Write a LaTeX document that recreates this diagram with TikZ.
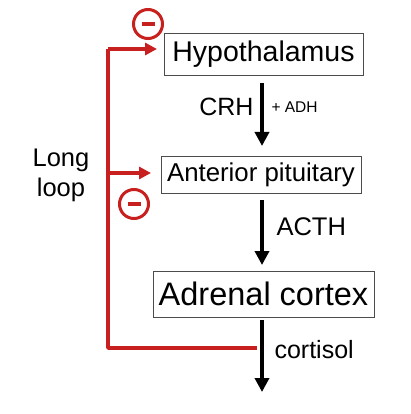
\documentclass[tikz,border=0pt]{standalone}
\usepackage{fontspec}
\setmainfont{Liberation Sans}
\usetikzlibrary{arrows.meta,positioning}
\definecolor{loopred}{RGB}{200,32,30}
\tikzset{
  organ/.style={draw=black!70,line width=0.8pt,inner sep=0pt,minimum height=#1},
  hormone/.style={line width=3.5pt,-{Triangle[length=14pt,width=14pt]}},
  feedback/.style={draw=loopred,line width=3.5pt},
  feedarrow/.style={feedback,-{Triangle[length=12pt,width=12pt]}},
  inhibit/.style={circle,draw=loopred,line width=3pt,minimum size=29pt,inner sep=0pt}
}
\newcommand{\minusbar}{\textcolor{loopred}{\rule[-2pt]{13pt}{4pt}}}
\begin{document}
\begin{tikzpicture}[x=1pt,y=-1pt]
	\useasboundingbox (0,0) rectangle (410,414);
	% the three glands
	\node[organ=42pt,minimum width=199pt] (hyp) at (263.5,54) {\fontsize{28.5}{30}\selectfont Hypothalamus};
	\node[organ=37pt,minimum width=200pt] (ant) at (261,174.5) {\fontsize{25.8}{28}\selectfont Anterior pituitary};
	\node[organ=46pt,minimum width=221pt] (adr) at (263.5,294) {\fontsize{32.5}{34}\selectfont Adrenal cortex};
	% hormones down the axis
	\coordinate (crhA) at (262,83);
	\coordinate (crhB) at (262,146);
	\coordinate (acthA) at (262,200);
	\coordinate (acthB) at (262,265);
	\coordinate (cortA) at (262,320);
	\coordinate (cortB) at (262,392);
	\draw[hormone] (crhA) -- (crhB);
	\draw[hormone] (acthA) -- (acthB);
	\draw[hormone] (cortA) -- (cortB);
	\node[anchor=east,font=\fontsize{25}{26}\selectfont] (crh) at (257,107) {CRH};
	\node[anchor=west,font=\fontsize{15.5}{17}\selectfont] (adh) at (268,107) {+ ADH};
	\node[anchor=west,font=\fontsize{25.5}{27}\selectfont] (acth) at (273,227) {ACTH};
	\node[anchor=west,font=\fontsize{25}{27}\selectfont] (cort) at (271,350) {cortisol};
	% long loop
	\coordinate (branch) at (257,348);
	\coordinate (corner) at (108,348);
	\coordinate (top) at (108,49);
	\coordinate (mid) at (108,173);
	\draw[feedback,line join=round] (branch) -- (corner) -- (top);
	\draw[feedarrow] (top) -- (157,49);
	\draw[feedarrow] (mid) -- (151,173);
	\node[inhibit] (minus1) at (148,24) {\minusbar};
	\node[inhibit] (minus2) at (134,204) {\minusbar};
	\node[align=center,font=\fontsize{25.5}{30}\selectfont] (long) at (61,175) {Long\\loop};
\end{tikzpicture}
\end{document}
